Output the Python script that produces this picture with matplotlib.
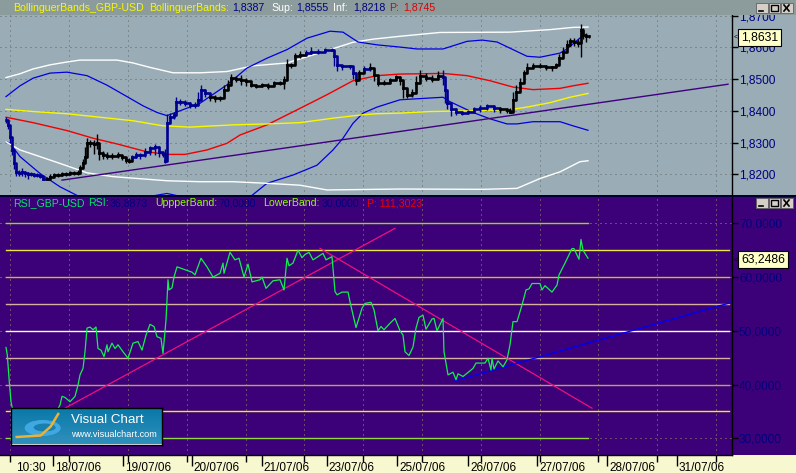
import numpy as np
import matplotlib
matplotlib.use("Agg")
import matplotlib.pyplot as plt
from matplotlib.patches import Rectangle, Ellipse
from matplotlib.transforms import ScaledTranslation

plt.rcParams['font.family'] = ['Liberation Sans', 'DejaVu Sans']

# x values are bar positions along the shared time axis
price_x = [6, 8, 10, 12, 14, 16, 19, 22, 25, 28, 31, 34, 37, 40, 43, 47, 50, 54, 58, 62, 66, 70, 74, 78, 80, 83, 85, 87,
           90, 94, 97, 99, 103, 107, 112, 118, 122, 126, 129, 132, 136, 140, 145, 150, 155, 159, 163, 165, 167, 170,
           174, 176, 180, 185, 190, 195, 198, 201, 205, 210, 215, 220, 224, 228, 231, 236, 241, 246, 251, 256, 262,
           268, 274, 280, 284, 287, 291, 295, 300, 306, 311, 318, 325, 332, 334, 337, 342, 350, 353, 356, 359, 364,
           370, 374, 378, 384, 390, 396, 400, 403, 407, 412, 416, 420, 426, 432, 438, 443, 445, 447, 451, 456, 462,
           468, 474, 480, 487, 494, 500, 507, 510, 513, 516, 520, 524, 527, 533, 540, 546, 552, 556, 559, 563, 567,
           570, 574, 578, 581, 583, 586, 589]
price_close = [1.8372, 1.8356, 1.8319, 1.8277, 1.8235, 1.8208, 1.8205, 1.8208, 1.8203, 1.8201, 1.8201, 1.8198, 1.8198,
               1.8195, 1.8187, 1.8187, 1.8193, 1.8198, 1.8198, 1.8201, 1.8201, 1.8203, 1.8203, 1.8205, 1.8219, 1.8235,
               1.8256, 1.8298, 1.8298, 1.8296, 1.8298, 1.8266, 1.8261, 1.8259, 1.8259, 1.8261, 1.8254, 1.8245, 1.8243,
               1.8254, 1.8261, 1.8261, 1.8272, 1.8282, 1.8287, 1.8272, 1.8264, 1.8243, 1.8361, 1.8382, 1.8387, 1.8429,
               1.8429, 1.8426, 1.8419, 1.8419, 1.8435, 1.8466, 1.8456, 1.8445, 1.8442, 1.8440, 1.8466, 1.8482, 1.8503,
               1.8501, 1.8498, 1.8493, 1.8482, 1.8479, 1.8482, 1.8479, 1.8487, 1.8489, 1.8498, 1.8545, 1.8545, 1.8572,
               1.8577, 1.8582, 1.8587, 1.8585, 1.8591, 1.8593, 1.8572, 1.8545, 1.8540, 1.8540, 1.8519, 1.8498, 1.8519,
               1.8532, 1.8535, 1.8514, 1.8489, 1.8489, 1.8498, 1.8506, 1.8498, 1.8472, 1.8451, 1.8456, 1.8487, 1.8511,
               1.8504, 1.8501, 1.8509, 1.8506, 1.8466, 1.8424, 1.8405, 1.8398, 1.8393, 1.8398, 1.8405, 1.8408, 1.8414,
               1.8408, 1.8405, 1.8403, 1.8398, 1.8435, 1.8461, 1.8487, 1.8519, 1.8535, 1.8542, 1.8542, 1.8537, 1.8537,
               1.8545, 1.8566, 1.8587, 1.8608, 1.8619, 1.8616, 1.8614, 1.8656, 1.8640, 1.8637, 1.8636]
price_high = [1.8380, 1.8368, 1.8340, 1.8300, 1.8260, 1.8225, 1.8215, 1.8220, 1.8212, 1.8208, 1.8207, 1.8205, 1.8204,
              1.8200, 1.8195, 1.8193, 1.8200, 1.8204, 1.8205, 1.8208, 1.8208, 1.8210, 1.8210, 1.8214, 1.8230, 1.8250,
              1.8285, 1.8315, 1.8308, 1.8308, 1.8326, 1.8290, 1.8275, 1.8270, 1.8268, 1.8272, 1.8262, 1.8252, 1.8252,
              1.8262, 1.8270, 1.8268, 1.8282, 1.8290, 1.8297, 1.8290, 1.8272, 1.8280, 1.8390, 1.8392, 1.8396, 1.8445,
              1.8438, 1.8434, 1.8428, 1.8427, 1.8460, 1.8480, 1.8470, 1.8452, 1.8450, 1.8448, 1.8482, 1.8498, 1.8515,
              1.8510, 1.8512, 1.8503, 1.8490, 1.8486, 1.8488, 1.8487, 1.8494, 1.8494, 1.8510, 1.8562, 1.8552, 1.8582,
              1.8590, 1.8592, 1.8602, 1.8595, 1.8598, 1.8598, 1.8592, 1.8552, 1.8546, 1.8546, 1.8530, 1.8522, 1.8530,
              1.8542, 1.8552, 1.8535, 1.8496, 1.8496, 1.8505, 1.8514, 1.8510, 1.8495, 1.8470, 1.8470, 1.8510, 1.8530,
              1.8518, 1.8512, 1.8525, 1.8530, 1.8500, 1.8450, 1.8420, 1.8408, 1.8400, 1.8404, 1.8412, 1.8418, 1.8422,
              1.8418, 1.8412, 1.8410, 1.8408, 1.8460, 1.8480, 1.8505, 1.8530, 1.8550, 1.8550, 1.8550, 1.8544, 1.8542,
              1.8552, 1.8580, 1.8600, 1.8622, 1.8630, 1.8628, 1.8625, 1.8675, 1.8660, 1.8645, 1.8640]
price_low = [1.8362, 1.8344, 1.8300, 1.8260, 1.8218, 1.8195, 1.8195, 1.8196, 1.8192, 1.8185, 1.8194, 1.8192, 1.8192,
             1.8190, 1.8183, 1.8182, 1.8188, 1.8192, 1.8192, 1.8196, 1.8196, 1.8197, 1.8198, 1.8198, 1.8208, 1.8225,
             1.8240, 1.8268, 1.8285, 1.8265, 1.8280, 1.8245, 1.8250, 1.8248, 1.8250, 1.8252, 1.8246, 1.8236, 1.8236,
             1.8244, 1.8252, 1.8250, 1.8255, 1.8262, 1.8260, 1.8256, 1.8255, 1.8235, 1.8335, 1.8368, 1.8375, 1.8395,
             1.8418, 1.8416, 1.8410, 1.8410, 1.8420, 1.8438, 1.8445, 1.8430, 1.8428, 1.8432, 1.8445, 1.8465, 1.8488,
             1.8490, 1.8482, 1.8478, 1.8475, 1.8472, 1.8474, 1.8470, 1.8478, 1.8480, 1.8470, 1.8520, 1.8535, 1.8552,
             1.8568, 1.8575, 1.8578, 1.8578, 1.8586, 1.8588, 1.8540, 1.8525, 1.8530, 1.8532, 1.8500, 1.8480, 1.8500,
             1.8520, 1.8525, 1.8495, 1.8478, 1.8480, 1.8488, 1.8498, 1.8480, 1.8440, 1.8440, 1.8445, 1.8470, 1.8500,
             1.8495, 1.8490, 1.8498, 1.8480, 1.8425, 1.8405, 1.8385, 1.8388, 1.8386, 1.8390, 1.8396, 1.8396, 1.8402,
             1.8396, 1.8394, 1.8394, 1.8392, 1.8396, 1.8440, 1.8470, 1.8500, 1.8520, 1.8535, 1.8535, 1.8528, 1.8525,
             1.8535, 1.8555, 1.8570, 1.8595, 1.8605, 1.8605, 1.8600, 1.8570, 1.8625, 1.8618, 1.8628]
price_color = list("nnnnnnnnnnnnnnnkkkkkkkkkkkkkkkkkkkkkkkknnnnnnnnnnnnnnnnnnnnkkkkkkkkkkkkkkkkkkkknnnnnnnnnnkknkkkkkkkkkkkkkkknnnnnnnnnnnkkkkkkkkkkkkkkkkkkkkkkkkkknnnnnnnn")

white_up_x = [6, 20, 33, 50, 67, 80, 117, 133, 150, 173, 200, 227, 253, 287, 330, 353, 373, 400, 440, 510, 550, 573, 588]
white_up = [1.8505, 1.8517, 1.8532, 1.8545, 1.8554, 1.8560, 1.8560, 1.8551, 1.8537, 1.8520, 1.8520, 1.8524, 1.8542,
            1.8551, 1.8593, 1.8616, 1.8626, 1.8635, 1.8647, 1.8648, 1.8656, 1.8663, 1.8664]
blue_up_x = [6, 20, 33, 50, 67, 87, 107, 127, 143, 157, 167, 200, 227, 247, 267, 287, 307, 330, 343, 358, 377, 400, 417,
             443, 467, 482, 497, 513, 527, 540, 560, 567, 582]
blue_up = [1.8445, 1.8479, 1.8503, 1.8519, 1.8522, 1.8511, 1.8481, 1.8445, 1.8416, 1.8395, 1.8385, 1.8424, 1.8482,
           1.8535, 1.8566, 1.8593, 1.8629, 1.8651, 1.8648, 1.8617, 1.8608, 1.8601, 1.8595, 1.8595, 1.8619, 1.8623,
           1.8617, 1.8593, 1.8572, 1.8569, 1.8582, 1.8595, 1.8635]
blue_lo_x = [6, 10, 20, 40, 60, 80, 100, 147, 167, 183, 217, 250, 267, 293, 317, 333, 343, 353, 363, 377, 400, 443, 450,
             473, 490, 507, 517, 533, 560, 573, 588]
blue_lo = [1.8303, 1.8298, 1.8256, 1.8203, 1.8161, 1.8129, 1.8100, 1.8129, 1.8140, 1.8129, 1.8095, 1.8129, 1.8172,
           1.8198, 1.8229, 1.8277, 1.8314, 1.8361, 1.8393, 1.8412, 1.8435, 1.8443, 1.8429, 1.8395, 1.8375, 1.8359,
           1.8359, 1.8366, 1.8366, 1.8353, 1.8339]
white_lo_x = [6, 20, 40, 67, 87, 113, 167, 200, 233, 267, 300, 327, 400, 483, 517, 540, 560, 580, 588]
white_lo = [1.8303, 1.8277, 1.8256, 1.8227, 1.8205, 1.8193, 1.8180, 1.8177, 1.8177, 1.8172, 1.8166, 1.8151, 1.8154,
            1.8153, 1.8156, 1.8187, 1.8208, 1.8240, 1.8243]
red_x = [6, 33, 67, 93, 117, 147, 167, 185, 207, 227, 240, 267, 300, 327, 353, 377, 400, 443, 467, 490, 513, 533, 560,
         573, 588]
red = [1.8380, 1.8363, 1.8338, 1.8314, 1.8296, 1.8271, 1.8263, 1.8263, 1.8277, 1.8298, 1.8324, 1.8356, 1.8408, 1.8451,
       1.8495, 1.8511, 1.8516, 1.8518, 1.8511, 1.8495, 1.8475, 1.8467, 1.8471, 1.8479, 1.8487]
yellow_x = [6, 33, 67, 100, 133, 163, 190, 233, 267, 300, 333, 360, 377, 400, 430, 467, 510, 527, 550, 570, 588]
yellow = [1.8405, 1.8398, 1.8391, 1.8380, 1.8369, 1.8353, 1.8349, 1.8356, 1.8359, 1.8363, 1.8377, 1.8387, 1.8391,
          1.8393, 1.8398, 1.8400, 1.8404, 1.8412, 1.8426, 1.8443, 1.8455]
purple_x = [62, 728]
purple = [1.8182, 1.8484]

rsi_x = [6, 7.3, 9.3, 11, 12.3, 20, 40, 58, 60, 62, 65, 70, 75, 78, 80, 83, 85, 87, 90, 93, 96, 98, 101, 104, 107, 108,
         112, 115, 118, 123, 128, 133, 138, 142, 146, 150, 154, 157, 161, 163, 166, 168, 169, 172, 174, 177, 183, 192,
         195, 201, 207, 213, 220, 223, 224, 230, 235, 239, 244, 248, 252, 260, 262, 266, 273, 280, 284, 287, 289, 293,
         298, 302, 305, 309, 313, 323, 326, 332, 335, 337, 342, 348, 350, 356, 362, 365, 371, 374, 378, 381, 384, 390,
         395, 400, 403, 405, 409, 413, 416, 419, 423, 426, 432, 434, 437, 443, 444, 448, 453, 456, 458, 463, 473, 476,
         485, 488, 491, 492, 494, 498, 503, 507, 510, 513, 517, 522, 526, 529, 532, 540, 542, 545, 552, 557, 559, 565,
         572, 574, 579, 581, 583, 588]
rsi = [46.9, 45.5, 40.5, 36.8, 35.6, 33.0, 32.5, 35.5, 36.2, 37.8, 37.6, 36.8, 37.8, 39.9, 41.8, 43.0, 46.1, 50.5, 50.7,
       50.2, 50.7, 46.7, 46.4, 45.2, 47.4, 46.1, 47.7, 46.7, 47.4, 46.1, 44.9, 47.7, 48.0, 46.4, 49.2, 51.2, 50.8, 48.9,
       48.6, 45.8, 52.0, 59.5, 57.6, 58.0, 60.0, 61.9, 61.5, 60.9, 60.4, 63.5, 61.9, 60.0, 60.7, 62.6, 60.7, 64.6, 63.2,
       63.5, 60.0, 62.4, 59.1, 59.5, 60.0, 57.9, 59.3, 59.5, 57.6, 63.5, 62.1, 62.6, 65.0, 63.6, 64.2, 64.6, 63.2, 64.4,
       63.2, 63.8, 57.3, 56.7, 57.2, 57.2, 55.4, 50.6, 54.2, 55.1, 55.3, 53.9, 50.0, 50.8, 50.2, 51.4, 52.3, 50.0, 49.2,
       46.1, 45.4, 47.0, 50.5, 52.5, 52.9, 50.3, 52.2, 52.3, 50.0, 52.3, 46.1, 41.8, 42.3, 40.9, 42.0, 41.5, 43.0, 44.0,
       44.0, 44.9, 42.7, 44.9, 42.9, 44.4, 43.3, 44.6, 47.4, 51.7, 51.7, 54.8, 57.6, 57.8, 58.8, 58.8, 57.6, 58.4, 57.2,
       58.5, 60.4, 62.6, 65.3, 65.3, 63.3, 67.0, 65.0, 63.5]

pink_up_x = [60, 395]
pink_up = [35.1, 69.07]
pink_down_x = [320, 592]
pink_down = [65.35, 35.6]
blue_trend_x = [455, 730]
blue_trend = [40.7, 55.2]

rsi_levels = [70, 65, 60, 55, 50, 45, 40, 35, 30]
level_colors = ['#80e800', '#e8e840', '#c8c020', '#d8b0a0', '#ffffff', '#d8b0a0', '#c0a060', '#f0f000', '#90d840']
level_ends = [588, 729, 729, 729, 729, 729, 729, 729, 588]

grid_x = [10, 69, 128, 187, 246, 304, 363, 422, 481, 540, 598, 657, 716]
date_ticks = [14, 52.7, 122.7, 191.7, 261.7, 326.7, 397, 468, 537, 607, 677]
date_labels = ['10:30', '18/07/06', '19/07/06', '20/07/06', '21/07/06', '23/07/06', '25/07/06', '26/07/06', '27/07/06',
               '28/07/06', '31/07/06']
price_ticks = [1.82, 1.83, 1.84, 1.85, 1.86, 1.87]
price_labels = ['1,8200', '1,8300', '1,8400', '1,8500', '1,8600', '1,8700']
rsi_ticks = [30, 40, 50, 60, 70]
rsi_labels = ['30,0000', '40,0000', '50,0000', '60,0000', '70,0000']

W, H = 796, 473
GREY = '#9aacb6'
HEAD = '#8c9c9c'
PURPLE = '#3c0078'
NAVY = '#000080'
CREAM = '#f8f8d0'
DARK_BLUE = '#000090'


def box(y0, y1):
    # axes rectangle from pixel rows, plot part stops at the price scale
    return [0, 1 - y1 / H, 732 / W, (y1 - y0) / H]


def fig_rect(x0, y0, x1, y1, color, zorder=-1, **kw):
    fig.add_artist(Rectangle((x0 / W, 1 - y1 / H), (x1 - x0) / W, (y1 - y0) / H, transform=fig.transFigure,
                             facecolor=color, edgecolor=kw.pop('edgecolor', 'none'), lw=kw.pop('lw', 0), zorder=zorder))


def header(pieces, y):
    for x, s, c in pieces:
        fig.text(x / W, 1 - y / H, s, color=c, fontsize=7.6, va='center', ha='left', zorder=7)


def win_buttons(y):
    for x in [756, 768.5, 781]:
        fig_rect(x, y, x + 11.5, y + 10, '#d4d0c8', zorder=7, edgecolor='#606060', lw=0.6)
    fig.add_artist(plt.Line2D([759 / W, 763 / W], [1 - (y + 8) / H] * 2, color='k', lw=1.2, zorder=8))
    fig_rect(771, y + 2, 778, y + 8, 'none', zorder=8, edgecolor='k', lw=1)
    fig.add_artist(plt.Line2D([784 / W, 789 / W], [1 - (y + 2) / H, 1 - (y + 8) / H], color='k', lw=1.2, zorder=8))
    fig.add_artist(plt.Line2D([784 / W, 789 / W], [1 - (y + 8) / H, 1 - (y + 2) / H], color='k', lw=1.2, zorder=8))


fig = plt.figure(figsize=(W / 100, H / 100), dpi=100, facecolor=CREAM)
fig_rect(0, 0, W, 196, GREY)
fig_rect(0, 196, W, 455, PURPLE)
fig_rect(0, 0, W, 15, HEAD, zorder=5)
fig_rect(0, 195.5, W, 197, '#000030', zorder=5)

# price panel
ax = fig.add_axes(box(15, 196), facecolor=GREY)
ax.set_xlim(0, 732)
ax.set_ylim(1.8132, 1.8702)
ax.grid(True, color='#606868', lw=0.72, ls=(0, (1, 4)))
ax.set_axisbelow(True)
ax.plot(white_up_x, white_up, color='white', lw=1)
ax.plot(blue_up_x, blue_up, color='#0000e0', lw=0.9)
ax.plot(blue_lo_x, blue_lo, color='#0000e0', lw=0.9)
ax.plot(white_lo_x, white_lo, color='white', lw=1)
ax.plot(red_x, red, color='#f00000', lw=1)
ax.plot(yellow_x, yellow, color='#f8f800', lw=1)
ax.plot(purple_x, purple, color='#400080', lw=1)

bar_colors = ['black' if c == 'k' else DARK_BLUE for c in price_color]
ax.vlines(price_x, price_low, price_high, colors=bar_colors[:len(price_x)], lw=1, zorder=3)
for i in range(len(price_x) - 1):
    ax.plot(price_x[i:i + 2], price_close[i:i + 2], color=bar_colors[i], lw=1.9, drawstyle='steps-post', zorder=3)

ax.set_xticks(grid_x)
ax.set_yticks(price_ticks, price_labels)
ax.yaxis.tick_right()
ax.tick_params(axis='x', length=0, labelbottom=False)
ax.tick_params(axis='y', length=4, width=1, color='black', labelcolor=NAVY, labelsize=8.6, pad=1)
for side in ['top', 'left', 'bottom']:
    ax.spines[side].set_visible(False)
ax.spines['right'].set_linewidth(1)
ax.text(741, 1.8631, '1,8631', fontsize=8.8, va='center', ha='left', color='black', clip_on=False, zorder=6,
        bbox=dict(boxstyle='square,pad=0.22', facecolor='#ffffc8', edgecolor='black', lw=0.8))
ax.text(734, 1.8631, '<', fontsize=5, va='center', ha='left', color='black', clip_on=False)

# rsi panel
ax2 = fig.add_axes(box(197, 455), facecolor=PURPLE)
ax2.set_xlim(0, 732)
ax2.set_ylim(70 - (455 - 223.3) / 5.375, 70 + (223.3 - 197) / 5.375)
ax2.grid(True, color='#a09860', lw=0.72, ls=(0, (1, 4)))
ax2.set_axisbelow(True)
for level, color, end in zip(rsi_levels, level_colors, level_ends):
    ax2.plot([6, end], [level, level], color=color, lw=1)
ax2.plot(pink_up_x, pink_up, color='#f01080', lw=0.9)
ax2.plot(pink_down_x, pink_down, color='#f01080', lw=0.9)
ax2.plot(blue_trend_x, blue_trend, color='#0000f0', lw=1)
ax2.plot(rsi_x, rsi, color='#10f050', lw=0.9)

ax2.set_xticks(date_ticks, date_labels)
ax2.set_xticks(grid_x, minor=True)
ax2.set_yticks(rsi_ticks, rsi_labels)
ax2.yaxis.tick_right()
ax2.grid(False, axis='x', which='major')
ax2.grid(True, axis='x', which='minor', color='#a09860', lw=0.72, ls=(0, (1, 4)))
ax2.tick_params(axis='x', which='major', length=8, width=1, color='black', labelsize=8.5, labelcolor='black', pad=-3)
ax2.tick_params(axis='x', which='minor', length=5, width=1, color='black')
ax2.tick_params(axis='y', length=4, width=1, color='black', labelcolor=NAVY, labelsize=8.5, pad=1)
ax2.xaxis.get_major_ticks()[0].tick1line.set_visible(False)
shift = ScaledTranslation(2 / 100, 0, fig.dpi_scale_trans)
for label in ax2.get_xticklabels():
    label.set_ha('left')
    label.set_transform(label.get_transform() + shift)
for side in ['top', 'left']:
    ax2.spines[side].set_visible(False)
ax2.spines['right'].set_linewidth(1)
ax2.spines['bottom'].set_linewidth(1)
ax2.text(741, 63.2486, '63,2486', fontsize=8.8, va='center', ha='left', color='black', clip_on=False, zorder=6,
         bbox=dict(boxstyle='square,pad=0.22', facecolor='#ffffc8', edgecolor='black', lw=0.8))
ax2.text(734, 63.2486, '<', fontsize=5, va='center', ha='left', color='black', clip_on=False)

header([(13, 'BollinguerBands_GBP-USD', '#f8f800'), (149, 'BollinguerBands:', '#f8f800'), (232, '1,8387', NAVY),
        (271, 'Sup:', 'white'), (296, '1,8555', NAVY), (333, 'Inf:', 'white'), (353, '1,8218', NAVY),
        (389, 'P:', '#e00000'), (403, '1,8745', '#e00000')], 8)
header([(13, 'RSI_GBP-USD', '#00e868'), (88, 'RSI:', '#00e868'), (110, '36,8873', NAVY),
        (155, 'UppperBand:', '#90ff00'), (218, '70,0000', NAVY), (263, 'LowerBand:', '#90ff00'),
        (322, '30,0000', NAVY), (367, 'P: 111,3023', '#f00000')], 203.5)
win_buttons(3)
win_buttons(198)

# logo plate
logo = fig.add_axes([10.7 / W, 1 - 444.5 / H, 151 / W, 37 / H], zorder=6)
logo.imshow(np.linspace(0, 1, 40).reshape(-1, 1), aspect='auto', extent=(0, 151, 0, 37),
            cmap=matplotlib.colors.LinearSegmentedColormap.from_list('logo', ['#0878a8', '#3090bc']))
logo.add_patch(Ellipse((32, 16.5), 36, 16, facecolor='#40a8e0', edgecolor='none'))
logo.add_patch(Ellipse((34, 17), 22, 8, facecolor='#1880b0', edgecolor='none'))
logo.plot([6, 30, 40, 47.5], [7.5, 9, 18, 30.5], color='#f0b030', lw=1.8)
logo.text(60, 25, 'Visual Chart', color='white', fontsize=9.6, va='center', ha='left')
logo.text(60, 10, 'www.visualchart.com', color='white', fontsize=6.6, va='center', ha='left')
logo.set_xlim(0, 151)
logo.set_ylim(0, 37)
logo.set_xticks([])
logo.set_yticks([])
for spine in logo.spines.values():
    spine.set_linewidth(1)
    spine.set_color('black')

fig.savefig('out.png', dpi=100, facecolor=CREAM)
